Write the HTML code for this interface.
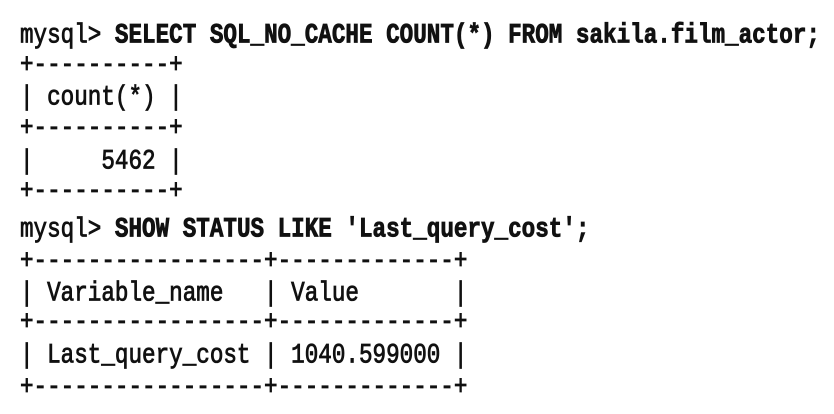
<!DOCTYPE html>
<html><head><meta charset="utf-8"><style>
html,body{margin:0;padding:0;background:#fff;width:834px;height:414px;overflow:hidden}
.l{position:absolute;left:20px;height:30px;line-height:30px;font-family:"Liberation Mono",monospace;font-size:22.6px;color:#111;white-space:pre;-webkit-text-stroke:0.7px #111;transform:scaleY(1.22);transform-origin:0 50%}
b{font-weight:bold}
</style></head><body>
<div class="l" style="top:20px">mysql&gt; <b>SELECT SQL_NO_CACHE COUNT(*) FROM sakila.film_actor;</b></div>
<div class="l" style="top:50px">+----------+</div>
<div class="l" style="top:82px">| count(*) |</div>
<div class="l" style="top:113px">+----------+</div>
<div class="l" style="top:146px">|     5462 |</div>
<div class="l" style="top:176px">+----------+</div>
<div class="l" style="top:214px">mysql&gt; <b>SHOW STATUS LIKE 'Last_query_cost';</b></div>
<div class="l" style="top:246px">+-----------------+-------------+</div>
<div class="l" style="top:278px">| Variable_name   | Value       |</div>
<div class="l" style="top:307px">+-----------------+-------------+</div>
<div class="l" style="top:340px">| Last_query_cost | 1040.599000 |</div>
<div class="l" style="top:372px">+-----------------+-------------+</div>
</body></html>
